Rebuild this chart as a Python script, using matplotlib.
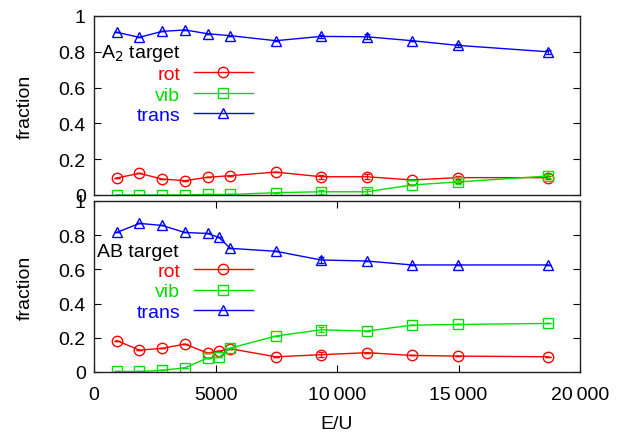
import matplotlib
matplotlib.use("Agg")
import matplotlib.pyplot as plt
from matplotlib.ticker import FuncFormatter

plt.rcParams['font.family'] = ['Liberation Sans', 'DejaVu Sans']
FS = 14
plt.rcParams['font.size'] = FS

# Top panel (A2 target)
x_a2 = [935, 1870, 2805, 3740, 4675, 5610, 7480, 9350, 11220, 13090, 14960, 18700]
rot_a2 = [0.095, 0.121, 0.089, 0.080, 0.099, 0.108, 0.128, 0.102, 0.102, 0.084, 0.097, 0.097]
vib_a2 = [0.0, 0.0, 0.0, 0.0, 0.003, 0.003, 0.013, 0.018, 0.018, 0.056, 0.073, 0.106]
trans_a2 = [0.909, 0.881, 0.914, 0.922, 0.901, 0.890, 0.862, 0.886, 0.884, 0.862, 0.836, 0.800]
err_a2 = [0, 0, 0, 0, 0, 0, 0, 0.01, 0.015, 0, 0.01, 0.01]

# Bottom panel (AB target)
x_ab = [935, 1870, 2805, 3740, 4675, 5140, 5610, 7480, 9350, 11220, 13090, 14960, 18700]
rot_ab = [0.184, 0.128, 0.138, 0.163, 0.111, 0.122, 0.136, 0.089, 0.101, 0.113, 0.097, 0.093, 0.089]
vib_ab = [0.003, 0.003, 0.010, 0.025, 0.082, 0.085, 0.140, 0.210, 0.247, 0.239, 0.274, 0.278, 0.284]
trans_ab = [0.816, 0.869, 0.857, 0.816, 0.810, 0.787, 0.723, 0.706, 0.655, 0.649, 0.626, 0.626, 0.626]
err_ab = [0, 0, 0, 0, 0, 0, 0, 0, 0.015, 0, 0, 0, 0]

xticks = [0, 5000, 10000, 15000, 20000]
yticks = [0, 0.2, 0.4, 0.6, 0.8, 1.0]

RED = '#ff0000'
GREEN = '#00e000'
BLUE = '#0000ff'

W, H = 623, 435
fig = plt.figure(figsize=(W / 100, H / 100), dpi=100)
L, R = 94 / W, 580 / W
ax1 = fig.add_axes([L, 1 - 196 / H, R - L, (196 - 17) / H])
ax2 = fig.add_axes([L, 1 - 373 / H, R - L, (373 - 202) / H])


def yfmt(v, pos):
    if abs(v) < 1e-9:
        return '0'
    if abs(v - 1) < 1e-9:
        return '1'
    return f'{v:.1f}'


def xfmt(v, pos):
    v = int(round(v))
    if v >= 10000:
        return f'{v // 1000}\u2009{v % 1000:03d}'
    return str(v)


def draw(ax, x, rot, vib, trans, err, title, show_x, title_pos, leg_y):
    kw = dict(lw=1.0, ms=7.5, mfc='none', mew=1.0)
    series = [(rot, RED, 'o', 'rot'), (vib, GREEN, 's', 'vib'), (trans, BLUE, '^', 'trans')]
    handles = []
    for vals, c, m, lab in series:
        h, = ax.plot(x, vals, color=c, marker=m, label=lab, **kw)
        handles.append(h)
        ax.errorbar(x, vals, yerr=err, fmt='none', ecolor=c, capsize=2, elinewidth=0.8)
    ax.set_xlim(0, 20000)
    ax.set_ylim(0, 1)
    ax.set_yticks(yticks)
    ax.yaxis.set_major_formatter(FuncFormatter(yfmt))
    ax.set_xticks(xticks)
    ax.xaxis.set_major_formatter(FuncFormatter(xfmt))
    ax.set_ylabel('fraction', fontsize=FS)
    ax.yaxis.set_label_coords(-0.123, 0.5)
    if show_x:
        ax.tick_params(axis='x', direction='in', top=True, bottom=True, labelsize=FS, length=5, pad=10)
        ax.set_xlabel('E/U', fontsize=FS, labelpad=9)
    else:
        ax.tick_params(axis='x', which='both', top=False, bottom=False, labelbottom=False)
    ax.tick_params(axis='y', direction='in', left=True, right=True, labelsize=FS, length=5, pad=6)
    for sp in ax.spines.values():
        sp.set_linewidth(1.0)
        sp.set_color('#222222')
    ax.text(title_pos[0], title_pos[1], title, transform=ax.transAxes, ha='left', va='baseline',
            fontsize=FS, color='black')
    leg = ax.legend(handles, [h.get_label() for h in handles], loc='center right',
                    bbox_to_anchor=(0.327, leg_y), frameon=False, markerfirst=False,
                    handlelength=3.05, handletextpad=0.68, labelspacing=0.15, fontsize=FS,
                    borderaxespad=0.0, borderpad=0.0)
    for t, c in zip(leg.get_texts(), [RED, GREEN, BLUE]):
        t.set_color(c)


draw(ax1, x_a2, rot_a2, vib_a2, trans_a2, err_a2, 'A$_2$ target', False, (0.0144, 0.771), 0.560)
draw(ax2, x_ab, rot_ab, vib_ab, trans_ab, err_ab, 'AB target', True, (0.0055, 0.68), 0.470)

fig.savefig('out.png', dpi=100)
